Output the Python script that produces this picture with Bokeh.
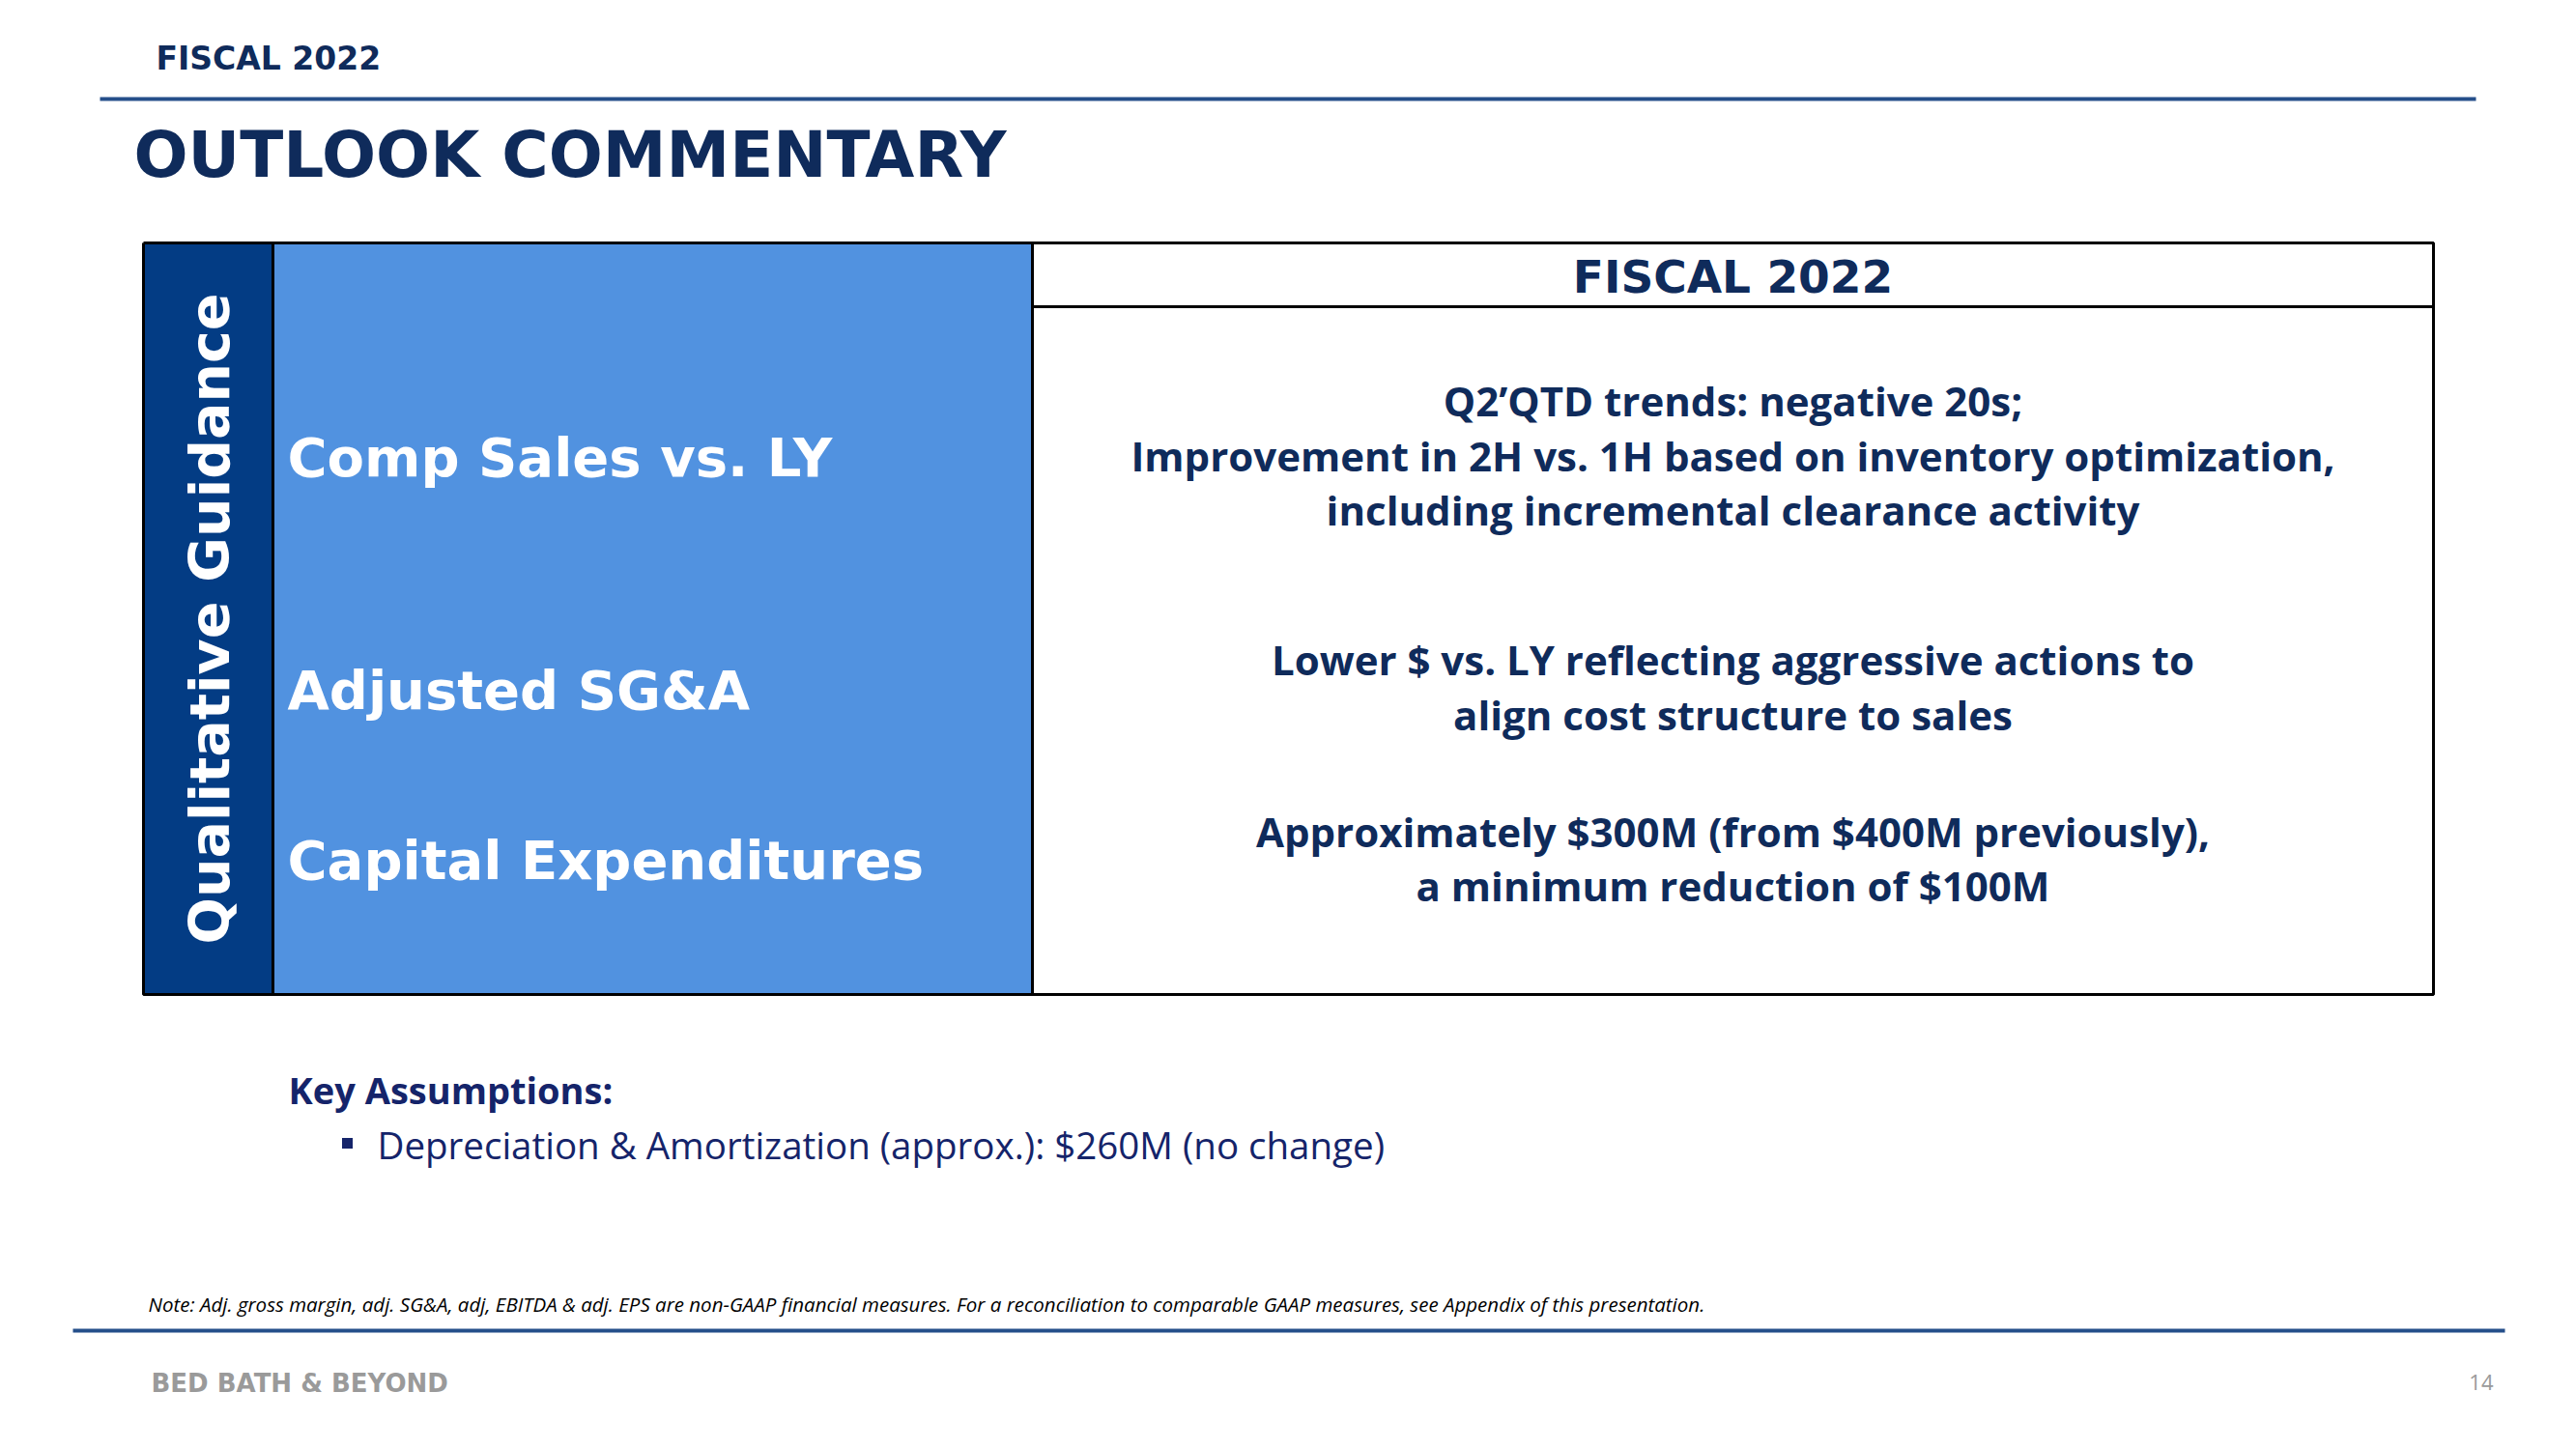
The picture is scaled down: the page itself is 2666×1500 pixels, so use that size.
import math
from bokeh.plotting import figure
from bokeh.models import Range1d
from bokeh.core.properties import value
from bokeh.embed import file_html
from bokeh.resources import INLINE

# ---- content ----
header_label = "FISCAL 2022"
title = "OUTLOOK COMMENTARY"
side_label = "Qualitative Guidance"
table_header = "FISCAL 2022"
row_labels = ["Comp Sales vs. LY", "Adjusted SG&A", "Capital Expenditures"]
row_comments = [
    ["Q2\u2019QTD trends: negative 20s;",
     "Improvement in 2H vs. 1H based on inventory optimization,",
     "including incremental clearance activity"],
    ["Lower $ vs. LY reflecting aggressive actions to",
     "align cost structure to sales"],
    ["Approximately $300M (from $400M previously),",
     "a minimum reduction of $100M"],
]
key_title = "Key Assumptions:"
key_items = ["Depreciation & Amortization (approx.): $260M (no change)"]
note = ("Note: Adj. gross margin, adj. SG&A, adj, EBITDA & adj. EPS are non-GAAP financial measures.  "
        "For a reconciliation to comparable GAAP measures, see Appendix of this presentation.")
footer_brand = "BED BATH & BEYOND"
page_number = "14"

# ---- styles ----
NAVY = "#0f2b5b"
NAVY2 = "#15246a"
DARK_COL = "#033c84"
LIGHT_COL = "#5192e0"
RULE = "#254f8a"
GREY = "#9a9a9a"
WIDE = value("DejaVu Sans")
BODY = value("Open Sans")

W, H = 2650, 1484
p = figure(width=W, height=H, output_backend="svg", toolbar_location=None,
           x_range=Range1d(0, W), y_range=Range1d(H, 0),
           min_border=0, outline_line_color=None)
p.axis.visible = False
p.grid.visible = False
p.background_fill_color = "white"
p.border_fill_color = "white"

def txt(x, y, t, size, color, font, style="normal", align="left", angle=0.0):
    p.text(x=[x], y=[y], text=[t], text_font=font, text_font_size=f"{size}px",
           text_color=color, text_font_style=style, text_align=align,
           text_baseline="middle", angle=angle)

# header
txt(161, 60, header_label, 33, NAVY, WIDE, "bold")
p.segment(x0=[103], y0=[102], x1=[2562], y1=[102], line_color=RULE, line_width=4)
txt(138, 160, title, 66, NAVY, WIDE, "bold")

# table geometry
left, dark_r, light_r, right = 148, 282, 1068, 2518
top, head_b, bottom = 251, 317, 1029
p.quad(left=[left], right=[dark_r], top=[top], bottom=[bottom],
       fill_color=DARK_COL, line_color=None)
p.quad(left=[dark_r], right=[light_r], top=[top], bottom=[bottom],
       fill_color=LIGHT_COL, line_color=None)
p.quad(left=[light_r], right=[right], top=[top], bottom=[bottom],
       fill_color="white", line_color=None)
# borders
p.multi_line(xs=[[left, right, right, left, left], [light_r, right], [dark_r, dark_r], [light_r, light_r]],
             ys=[[top, top, bottom, bottom, top], [head_b, head_b], [top, bottom], [top, bottom]],
             line_color="black", line_width=3)

txt(216, 640, side_label, 57, "white", WIDE, "bold", "center", math.pi / 2)
txt((light_r + right) / 2, 286, table_header, 47, NAVY, WIDE, "bold", "center")

label_y = [473, 714, 890]
comment_y = [[414, 471, 527], [682, 739], [860, 916]]
for lab, ly, lines, cys in zip(row_labels, label_y, row_comments, comment_y):
    txt(297, ly, lab, 56, "white", WIDE, "bold")
    for line, cy in zip(lines, cys):
        txt((light_r + right) / 2, cy, line, 42, NAVY, BODY, "bold", "center")

# key assumptions
txt(298, 1127, key_title, 38, NAVY2, BODY, "bold")
for i, item in enumerate(key_items):
    y = 1184 + i * 56
    p.rect(x=[359], y=[y - 1], width=11, height=11, fill_color=NAVY2, line_color=None)
    txt(390, y, item, 38.5, NAVY2, BODY)

# note + footer
txt(153, 1349, note, 20.5, "black", BODY, "italic")
p.segment(x0=[75], y0=[1377], x1=[2592], y1=[1377], line_color=RULE, line_width=4)
txt(156, 1431, footer_brand, 26, GREY, WIDE, "bold")
txt(2580, 1430, page_number, 22, GREY, BODY, "normal", "right")

open("out.html", "w").write(file_html(p, INLINE))
